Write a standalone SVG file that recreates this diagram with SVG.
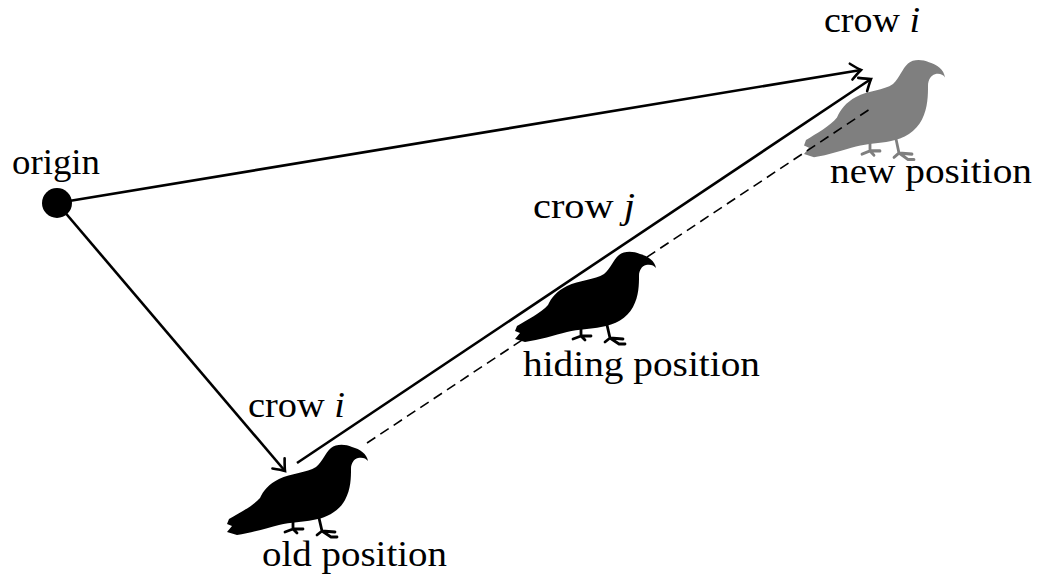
<svg xmlns="http://www.w3.org/2000/svg" xmlns:xlink="http://www.w3.org/1999/xlink" width="1039" height="579" viewBox="0 0 1039 579">
  <style>
    .lbl { font-family: "Liberation Serif", "DejaVu Serif", serif; font-size: 35px; fill: #000; }
    .vec { fill: none; stroke: #000; stroke-width: 2.6; }
    .dash { fill: none; stroke: #000; stroke-width: 1.6; stroke-dasharray: 10 6; }
    .crow-body { fill: currentColor; stroke: none; }
    .crow-legs { fill: none; stroke: currentColor; stroke-width: 2.8; stroke-linecap: round; stroke-linejoin: round; }
  </style>
  <defs>
    <!-- open "to" style arrowhead -->
    <marker id="arrow" markerUnits="userSpaceOnUse" markerWidth="20" markerHeight="20" viewBox="-14 -10 16 20" refX="0" refY="0" orient="auto">
      <path d="M -10 -8 Q -3 -2 0 0 Q -3 2 -10 8" fill="none" stroke="#000" stroke-width="2.6" stroke-linecap="round"/>
    </marker>
    <!-- crow silhouette, facing right, tail at lower left -->
    <g id="crow">
      <path class="crow-body" d="M 141 18 C 140 11 133 6 125 4 C 118 1 109 1 104 5 C 98 10 96 18 89 24 C 80 30 64 30 52 36 C 42 41 36 48 33 55 C 26 63 12 70 2 76 L 0 81 L 5 83 L 0 89 L 10 92 C 24 90 40 85 52 82 C 64 79 76 79 86 77 C 100 75 112 68 118 57 C 124 46 124 34 124 26 C 124 20 127 16 131 15 C 135 14 139 15 141 18 Z"/>
      <path class="crow-legs" d="M 66 78 L 66 86 M 58 89 L 66 86 L 76 86 M 66 86 L 70 90 M 92 75 L 95 88 M 95 88 L 104 94 L 110 94 M 95 88 L 108 89 M 95 88 L 90 92"/>
    </g>
  </defs>

  <!-- origin -->
  <g id="origin">
    <circle cx="57" cy="203" r="15" fill="#000"/>
    <text class="lbl" x="12" y="174" textLength="88" lengthAdjust="spacingAndGlyphs">origin</text>
  </g>

  <!-- crow i, old position -->
  <g id="old-position" color="#000">
    <use xlink:href="#crow" href="#crow" transform="translate(227,443)"/>
    <text class="lbl" x="248" y="417" textLength="97" lengthAdjust="spacingAndGlyphs">crow <tspan font-style="italic">i</tspan></text>
    <text class="lbl" x="262" y="566" textLength="185" lengthAdjust="spacingAndGlyphs">old position</text>
  </g>

  <!-- crow j, hiding position -->
  <g id="hiding-position" color="#000">
    <use xlink:href="#crow" href="#crow" transform="translate(515,250)"/>
    <text class="lbl" x="533" y="218" textLength="102" lengthAdjust="spacingAndGlyphs">crow <tspan font-style="italic">j</tspan></text>
    <text class="lbl" x="523" y="376" textLength="237" lengthAdjust="spacingAndGlyphs">hiding position</text>
  </g>

  <!-- crow i, new position (grey, the vectors run over it) -->
  <g id="new-position" color="#7f7f7f">
    <use xlink:href="#crow" href="#crow" transform="translate(804,58) scale(1.0,1.08)"/>
    <text class="lbl" x="824" y="32" textLength="96" lengthAdjust="spacingAndGlyphs">crow <tspan font-style="italic">i</tspan></text>
    <text class="lbl" x="830" y="183" textLength="202" lengthAdjust="spacingAndGlyphs">new position</text>
  </g>

  <!-- connectors, drawn on top -->
  <g id="connectors">
    <line class="vec" x1="57" y1="203" x2="861" y2="70" marker-end="url(#arrow)"/>
    <line class="vec" x1="57" y1="203" x2="285" y2="471" marker-end="url(#arrow)"/>
    <line class="dash" x1="367" y1="443" x2="873" y2="107"/>
    <line class="vec" x1="297" y1="463" x2="871" y2="79" marker-end="url(#arrow)"/>
  </g>
</svg>
